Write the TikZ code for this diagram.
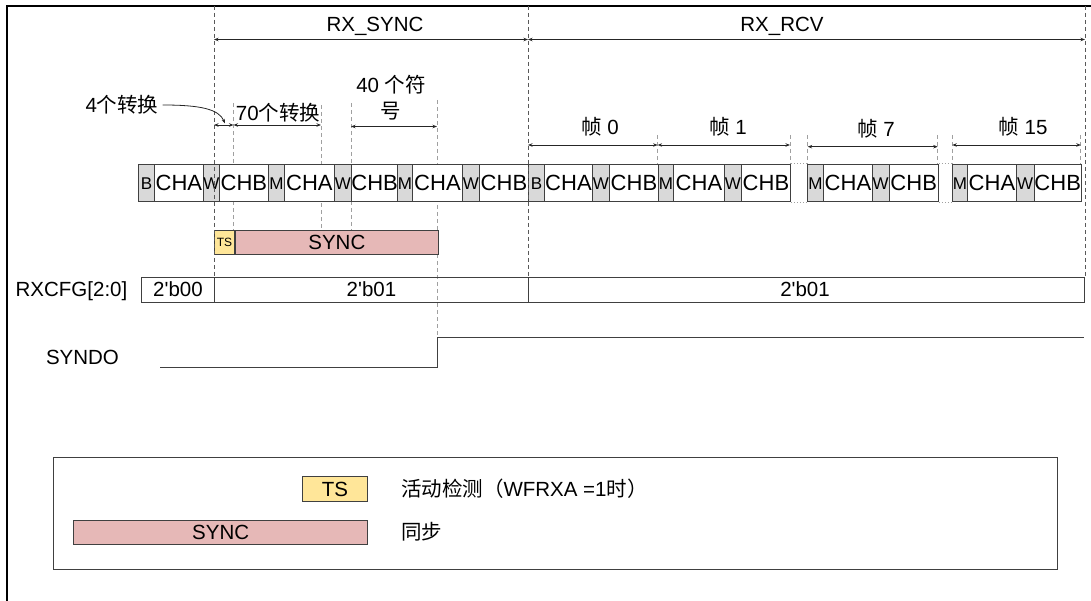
\documentclass[tikz,border=0pt]{standalone}
\usepackage{fontspec}
\setmainfont{Liberation Sans}[Ligatures=TeXOff]
\newfontfamily\cjk{Noto Sans CJK SC}
\usetikzlibrary{arrows.meta}
\definecolor{cellgray}{HTML}{D9D9D9}
\definecolor{tsyel}{HTML}{FFE699}
\definecolor{syncpink}{HTML}{E6B8B7}
\definecolor{edgec}{HTML}{404040}
\definecolor{guidedk}{HTML}{595959}
\definecolor{guidelt}{HTML}{A0A0A0}
\begin{document}
\begin{tikzpicture}[x=1pt,y=-1pt,
  txt/.style={inner sep=0pt, text height=14.7pt, text depth=0pt, font=\fontsize{20.5}{26.7}\selectfont},
  cellbox/.style={draw=edgec, line width=0.9pt, minimum height=37.7pt, inner sep=0pt, text depth=0pt},
  guidemaj/.style={draw=guidedk, dash pattern=on 4pt off 3pt, line width=1pt},
  guidemin/.style={draw=guidelt, dash pattern=on 4pt off 3pt, line width=0.8pt},
  dimarrow/.style={draw=black!85, line width=0.8pt, {Stealth[length=4.5pt,width=3.5pt]}-{Stealth[length=4.5pt,width=3.5pt]}},
  sigbox/.style={draw=edgec, line width=0.9pt, inner sep=0pt, text height=14.7pt, text depth=0pt, font=\fontsize{20.5}{24}\selectfont},
]
\useasboundingbox (0,0) rectangle (1091,601);

% outer frame (top and left edges)
\coordinate (fbl) at (7,601);
\coordinate (ftl) at (7,6);
\coordinate (ftr) at (1091,6);
\draw[line width=2.6pt] (fbl) -- (ftl) -- (ftr);

% minor guide lines (behind cells)
\foreach \gx/\ga/\gb [count=\k] in {233.5/103/254, 321/105/230, 351/103/230, 437/100/337,
    657.6/135/164, 790/135/164, 807.7/135/164, 937.7/135/164, 952.3/135/164, 1080.8/135/164} {
  \coordinate (ma\k) at (\gx,\ga);
  \coordinate (mb\k) at (\gx,\gb);
  \draw[guidemin] (ma\k) -- (mb\k);
}

% cell row
\foreach \l/\r/\fc/\fs/\t [count=\i] in {
  138/154/cellgray/17/B, 154/203/white/22/CHA, 203/219/cellgray/17/W, 219/268/white/22/CHB,
  268/284/cellgray/17/M, 284/334/white/22/CHA, 334/351/cellgray/17/W, 351/397/white/22/CHB,
  397/412/cellgray/17/M, 412/462/white/22/CHA, 462/479/cellgray/17/W, 479/528/white/22/CHB,
  528/544/cellgray/17/B, 544/592/white/22/CHA, 592/609/cellgray/17/W, 609/658/white/22/CHB,
  658/673/cellgray/17/M, 673/724/white/22/CHA, 724/741/cellgray/17/W, 741/790/white/22/CHB,
  807/823/cellgray/17/M, 823/872/white/22/CHA, 872/888.5/cellgray/17/W, 888.5/938/white/22/CHB,
  952/967/cellgray/17/M, 967/1016/white/22/CHA, 1016/1033.5/cellgray/17/W, 1033.5/1081/white/22/CHB} {
  \pgfmathsetmacro\w{\r-\l}
  \pgfmathsetmacro\th{0.716*\fs}
  \node[cellbox, fill=\fc, minimum width=\w pt, text height=\th pt,
        font=\fontsize{\fs}{\fs}\selectfont, anchor=west] (c\i) at (\l,183) {\t};
}
\draw[guidelt, dotted, line width=1pt] (c20.north east) -- (c21.north west);
\draw[guidelt, dotted, line width=1pt] (c20.south east) -- (c21.south west);
\draw[guidelt, dotted, line width=1pt] (c24.north east) -- (c25.north west);
\draw[guidelt, dotted, line width=1pt] (c24.south east) -- (c25.south west);

% TS / SYNC
\node[sigbox, fill=tsyel, minimum width=20pt, minimum height=24pt, text height=8.6pt,
      font=\fontsize{12}{12}\selectfont, anchor=west] (ts) at (214,242) {TS};
\node[sigbox, fill=syncpink, minimum width=203pt, minimum height=24pt, anchor=west] (sync) at (ts.east) {SYNC};

% major guide lines
\foreach \gx [count=\k] in {214, 528, 1085} {
  \coordinate (ga\k) at (\gx,6);
  \coordinate (gb\k) at (\gx,277);
  \draw[guidemaj] (ga\k) -- (gb\k);
}

% state arrows
\coordinate (s1) at (214,39.5);
\coordinate (s2) at (528,39.5);
\coordinate (s3) at (1085,39.5);
\draw[dimarrow] (s1) -- (s2);
\draw[dimarrow] (s2) -- (s3);
\node[txt] (rxsync) at (375,24) {RX\_SYNC};
\node[txt] (rxrcv) at (782,24) {RX\_RCV};

% transition dimension arrows
\coordinate (d1) at (214,125);
\coordinate (d2) at (233.5,125);
\coordinate (d3) at (321,125);
\coordinate (d4) at (351,126.5);
\coordinate (d5) at (437,126.5);
\draw[dimarrow] (d1) -- (d2);
\draw[dimarrow] (d2) -- (d3);
\draw[dimarrow] (d4) -- (d5);
\node[txt] (l4) at (122,105) {4{\cjk 个转换}};
\node[txt] (l70) at (278,113) {70{\cjk 个转换}};
\node[txt] (l40a) at (391,85) {40 {\cjk 个符}};
\node[txt] (l40b) at (391,111.5) {{\cjk 号}};
\coordinate (ctip) at (225,123.5);
\draw[line width=0.8pt, draw=black!85, -{Stealth[length=4.5pt,width=3.5pt]}]
  ([xshift=4pt]l4.east) .. controls (200,105) and (219,109) .. (ctip);

% frame arrows
\coordinate (f0) at (528,145);
\coordinate (f1) at (657.6,145);
\coordinate (f2) at (790,145);
\coordinate (f3) at (807.7,146.7);
\coordinate (f4) at (937.7,146.7);
\coordinate (f5) at (952.3,145);
\coordinate (f6) at (1080.8,145);
\draw[dimarrow] (f0) -- (f1);
\draw[dimarrow] (f1) -- (f2);
\draw[dimarrow] (f3) -- (f4);
\draw[dimarrow] (f5) -- (f6);
\node[txt] (fr0) at (600,127) {{\cjk 帧} 0};
\node[txt] (fr1) at (728,127) {{\cjk 帧} 1};
\node[txt] (fr7) at (876,129.5) {{\cjk 帧} 7};
\node[txt] (fr15) at (1023,127) {{\cjk 帧} 15};

% RXCFG row
\node[sigbox, minimum width=73pt, minimum height=25pt, anchor=west] (r0) at (141,289.5) {2'b00};
\node[sigbox, minimum width=314pt, minimum height=25pt, anchor=west] (r1) at (214,289.5) {2'b01};
\node[sigbox, minimum width=556pt, minimum height=25pt, anchor=west] (r2) at (528,289.5) {};
\node[txt] (r2t) at (805,289.5) {2'b01};
\node[txt] (rxcfg) at (71.5,289.5) {RXCFG[2:0]};

% SYNDO
\node[txt] (syndo) at (82.5,356.7) {SYNDO};
\coordinate (y0) at (160,367.5);
\coordinate (y1) at (437,367.5);
\coordinate (y2) at (437,337);
\coordinate (y3) at (1084,337);
\draw[draw=edgec, line width=1pt] (y0) -- (y1) -- (y2) -- (y3);

% legend
\coordinate (lg1) at (53.7,457.3);
\coordinate (lg2) at (1057,569);
\draw[draw=edgec, line width=1pt] (lg1) rectangle (lg2);
\node[sigbox, fill=tsyel, minimum width=65.6pt, minimum height=24.3pt, anchor=east] (lts) at (368.3,488.8) {TS};
\node[sigbox, fill=syncpink, minimum width=294.3pt, minimum height=24pt, anchor=east] (lsync) at (368.3,532) {SYNC};
\node[txt, anchor=west] (ltst) at (400.8,488.8) {{\cjk 活动检测（}WFRXA =1{\cjk 时）}};
\node[txt, anchor=west] (lsynct) at (400.8,532) {{\cjk 同步}};
\end{tikzpicture}
\end{document}
